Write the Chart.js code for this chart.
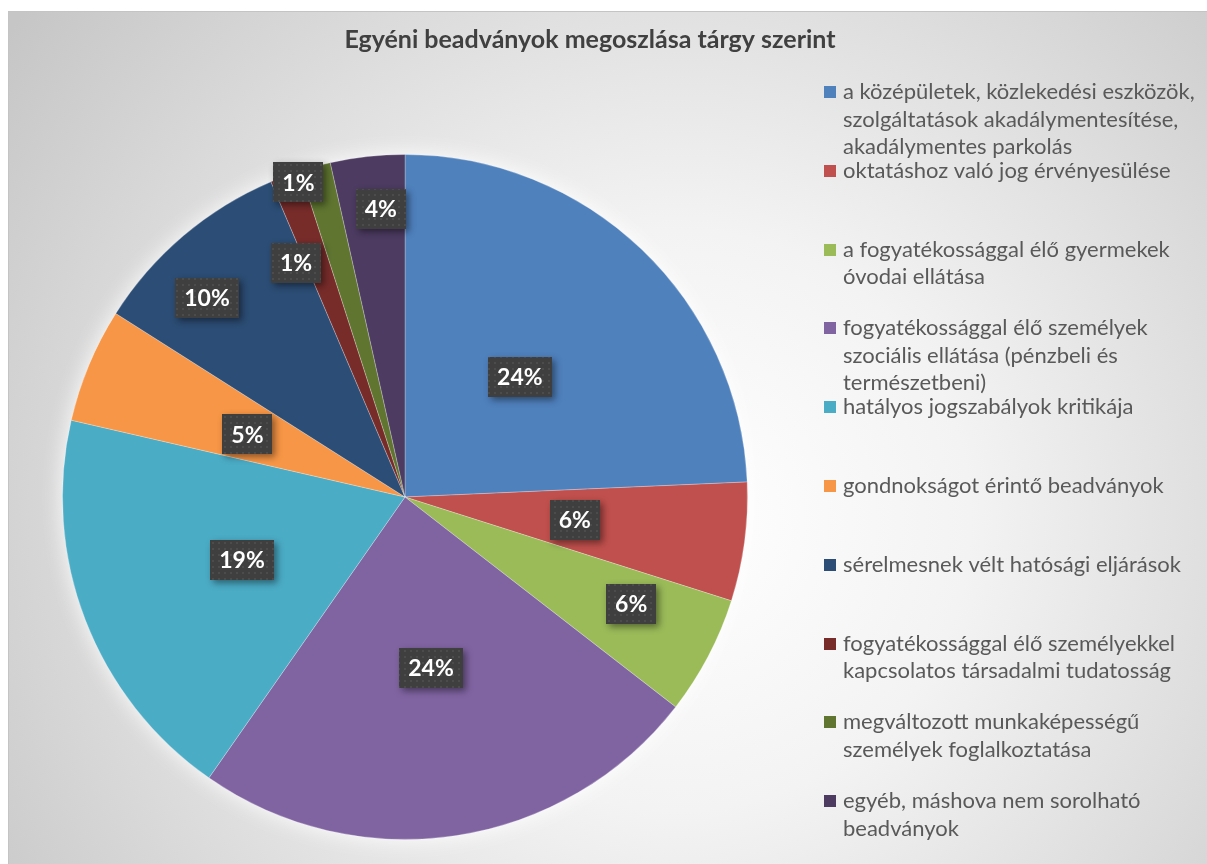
<!DOCTYPE html>
<html><head><meta charset="utf-8">
<script src="https://cdn.jsdelivr.net/npm/chart.js@4.4.1/dist/chart.umd.min.js"></script>
<style>html,body{margin:0;padding:0;background:#fff;overflow:hidden}canvas{display:block}</style>
</head><body>
<canvas id="c" width="1207" height="864"></canvas>
<script>
const chartTitle = "Egyéni beadványok megoszlása tárgy szerint";
const categories = [
  "a középületek, közlekedési eszközök, szolgáltatások akadálymentesítése, akadálymentes parkolás",
  "oktatáshoz való jog érvényesülése",
  "a fogyatékossággal élő gyermekek óvodai ellátása",
  "fogyatékossággal élő személyek szociális ellátása (pénzbeli és természetbeni)",
  "hatályos jogszabályok kritikája",
  "gondnokságot érintő beadványok",
  "sérelmesnek vélt hatósági eljárások",
  "fogyatékossággal élő személyekkel kapcsolatos társadalmi tudatosság",
  "megváltozott munkaképességű személyek foglalkoztatása",
  "egyéb, máshova nem sorolható beadványok"
];
const legendLines = [
  ["a középületek, közlekedési eszközök,", "szolgáltatások akadálymentesítése,", "akadálymentes parkolás"],
  ["oktatáshoz való jog érvényesülése"],
  ["a fogyatékossággal élő gyermekek", "óvodai ellátása"],
  ["fogyatékossággal élő személyek", "szociális ellátása (pénzbeli és", "természetbeni)"],
  ["hatályos jogszabályok kritikája"],
  ["gondnokságot érintő beadványok"],
  ["sérelmesnek vélt hatósági eljárások"],
  ["fogyatékossággal élő személyekkel", "kapcsolatos társadalmi tudatosság"],
  ["megváltozott munkaképességű", "személyek foglalkoztatása"],
  ["egyéb, máshova nem sorolható", "beadványok"]
];
const shares = [24.3, 5.6, 5.6, 24.2, 18.9, 5.4, 9.6, 1.45, 1.45, 3.5];
const sliceColors = ["#4F81BD", "#C0504D", "#9BBB59", "#8064A2", "#4BACC6", "#F79646", "#2C4D75", "#772C2A", "#5F7530", "#4D3B62"];

// label placement config (fraction of radius, angular nudge in degrees)
const labelRadius = [0.485, 0.5, 0.73, 0.505, 0.51, 0.495, 0.82, 0.755, 0.97, 0.845];
const labelAngleShift = [0, 0, -2.5, 0, 0, -1, -4.5, -4.5, -3.5, 1.5];

const W = 1207, H = 864;

const bgPlugin = {
  id: 'bg',
  beforeDraw(chart) {
    const ctx = chart.ctx;
    ctx.save();
    ctx.fillStyle = '#fff';
    ctx.fillRect(0, 0, W, H);
    const g = ctx.createRadialGradient(680, 520, 0, 680, 520, 830);
    g.addColorStop(0, '#ffffff');
    g.addColorStop(0.35, '#f3f3f3');
    g.addColorStop(1, '#c6c6c6');
    ctx.fillStyle = g;
    ctx.fillRect(8, 11, W - 8, H - 11);
    ctx.strokeStyle = '#c4c4c4';
    ctx.lineWidth = 1;
    ctx.strokeRect(8.5, 11.5, W, H);
    ctx.restore();
  },
  beforeDatasetsDraw(chart) {
    const arc = chart.getDatasetMeta(0).data[0];
    if (!arc) return;
    const p = arc.getProps(['x', 'y', 'outerRadius'], true);
    const ctx = chart.ctx;
    ctx.save();
    ctx.shadowColor = 'rgba(255,255,255,0.95)';
    ctx.shadowBlur = 22;
    ctx.fillStyle = '#ffffff';
    ctx.beginPath();
    ctx.arc(p.x, p.y, p.outerRadius, 0, Math.PI * 2);
    ctx.fill();
    ctx.restore();
  }
};

function makePattern(ctx) {
  const pc = document.createElement('canvas');
  pc.width = 6; pc.height = 6;
  const p = pc.getContext('2d');
  p.fillStyle = '#3f3f3f';
  p.fillRect(0, 0, 6, 6);
  p.fillStyle = '#4c4c4c';
  p.fillRect(2, 2, 2, 2);
  return ctx.createPattern(pc, 'repeat');
}

const labelPlugin = {
  id: 'boxLabels',
  afterDatasetsDraw(chart) {
    const ctx = chart.ctx;
    const meta = chart.getDatasetMeta(0);
    const total = shares.reduce((a, b) => a + b, 0);
    const pat = makePattern(ctx);
    ctx.save();
    ctx.font = 'bold 23px Lato';
    ctx.textAlign = 'center';
    ctx.textBaseline = 'middle';
    meta.data.forEach((arc, i) => {
      const p = arc.getProps(['x', 'y', 'startAngle', 'endAngle', 'outerRadius'], true);
      const mid = (p.startAngle + p.endAngle) / 2 + labelAngleShift[i] * Math.PI / 180;
      const r = p.outerRadius * labelRadius[i];
      const cx = p.x + Math.cos(mid) * r;
      const cy = p.y + Math.sin(mid) * r;
      const txt = Math.round(shares[i] / total * 100) + '%';
      const tw = ctx.measureText(txt).width;
      const bw = Math.round(tw + 18), bh = 40;
      const bx = Math.round(cx - bw / 2), by = Math.round(cy - bh / 2);
      ctx.save();
      ctx.shadowColor = 'rgba(0,0,0,0.45)';
      ctx.shadowBlur = 7;
      ctx.shadowOffsetX = 3;
      ctx.shadowOffsetY = 3;
      ctx.fillStyle = '#3f3f3f';
      ctx.fillRect(bx, by, bw, bh);
      ctx.restore();
      ctx.fillStyle = pat;
      ctx.fillRect(bx, by, bw, bh);
      ctx.fillStyle = '#ffffff';
      ctx.fillText(txt, cx, cy + 1);
    });
    ctx.restore();
  }
};

const textPlugin = {
  id: 'texts',
  afterDraw(chart) {
    const ctx = chart.ctx;
    ctx.save();
    ctx.fillStyle = '#404040';
    ctx.font = 'bold 25px Lato';
    ctx.textAlign = 'center';
    ctx.textBaseline = 'middle';
    ctx.fillText(chartTitle, 590, 40);

    ctx.font = '22px Lato';
    ctx.textAlign = 'left';
    legendLines.forEach((lines, i) => {
      const y0 = 92 + i * 78.8;
      ctx.fillStyle = sliceColors[i];
      ctx.fillRect(824, Math.round(y0 - 6), 12, 12);
      ctx.fillStyle = '#595959';
      lines.forEach((ln, j) => {
        ctx.fillText(ln, 843, y0 + j * 27.5);
      });
    });
    ctx.restore();
  }
};

new Chart(document.getElementById('c'), {
  type: 'pie',
  data: {
    labels: categories,
    datasets: [{
      data: shares,
      backgroundColor: sliceColors,
      borderColor: 'rgba(255,255,255,0.25)',
      borderWidth: 1
    }]
  },
  options: {
    responsive: false,
    animation: false,
    devicePixelRatio: 1,
    layout: { padding: { left: 62, top: 154, right: 459, bottom: 24 } },
    plugins: {
      legend: { display: false },
      title: { display: false },
      tooltip: { enabled: false }
    }
  },
  plugins: [bgPlugin, labelPlugin, textPlugin]
});
</script>
</body></html>
